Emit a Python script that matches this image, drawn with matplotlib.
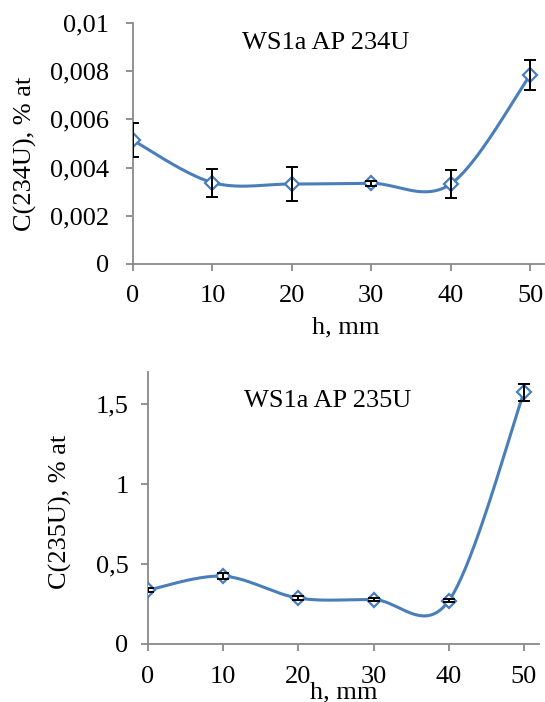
import numpy as np
import matplotlib
matplotlib.use("Agg")
import matplotlib.pyplot as plt
from matplotlib.ticker import FuncFormatter, MultipleLocator

plt.rcParams['font.family'] = ['Liberation Serif', 'DejaVu Serif']
plt.rcParams['font.size'] = 19

# data
h = [0, 10, 20, 30, 40, 50]
c234 = [0.00513, 0.00338, 0.00332, 0.00335, 0.00332, 0.00784]
err234 = [0.0007, 0.00058, 0.0007, 0.0001, 0.00058, 0.00063]
c235 = [0.337, 0.424, 0.287, 0.278, 0.270, 1.573]
err235 = [0.012, 0.02, 0.012, 0.01, 0.01, 0.055]

W, H = 545, 702
BLUE = '#4a7ebb'
GREY = '#898989'


def smooth(x, y, n=40):
    # Excel-like smoothed line (Catmull-Rom bezier)
    p = np.column_stack([x, y]).astype(float)
    p = np.vstack([p[0], p, p[-1]])
    out = []
    for i in range(1, len(p) - 2):
        p0, p1, p2, p3 = p[i - 1], p[i], p[i + 1], p[i + 2]
        c1 = p1 + (p2 - p0) / 6
        c2 = p2 - (p3 - p1) / 6
        t = np.linspace(0, 1, n)[:, None]
        seg = ((1 - t) ** 3 * p1 + 3 * (1 - t) ** 2 * t * c1
               + 3 * (1 - t) * t ** 2 * c2 + t ** 3 * p2)
        out.append(seg)
    out = np.vstack(out)
    return out[:, 0], out[:, 1]


def comma(v, pos):
    return ('%g' % v).replace('.', ',')


def panel(rect, y, err, ymax, ystep, ypad, xpad, title, tpos, ylab, ypos, xpos):
    l, t, r, b = rect
    ax = fig.add_axes([l / W, 1 - b / H, (r - l) / W, (b - t) / H])
    sx, sy = smooth(h, y)
    ax.plot(sx, sy, color=BLUE, lw=2.2, zorder=2)
    ax.plot(h, y, ls='none', marker='D', ms=7.5, mfc='white', mec=BLUE,
            mew=1.6, zorder=3)
    ax.errorbar(h, y, yerr=err, fmt='none', ecolor='black', elinewidth=1.4,
                capsize=4, capthick=1.4, zorder=4)
    ax.set_xlim(0, 52)
    ax.set_ylim(0, ymax)
    ax.set_xticks(h)
    ax.yaxis.set_major_locator(MultipleLocator(ystep))
    ax.yaxis.set_major_formatter(FuncFormatter(comma))
    for s in ['top', 'right']:
        ax.spines[s].set_visible(False)
    for s in ['left', 'bottom']:
        ax.spines[s].set_color(GREY)
        ax.spines[s].set_linewidth(1.3)
    ax.tick_params(axis='both', colors=GREY, labelcolor='black', width=1.3,
                   length=5, labelsize=19)
    ax.tick_params(axis='y', pad=ypad)
    ax.tick_params(axis='x', pad=xpad)
    fig.text(tpos[0] / W, 1 - tpos[1] / H, title, ha='center', va='center',
             fontsize=19)
    fig.text(ypos[0] / W, 1 - ypos[1] / H, ylab, ha='center', va='center',
             rotation=90, fontsize=19)
    fig.text(xpos[0] / W, 1 - xpos[1] / H, 'h, mm', ha='center',
             va='baseline', fontsize=19)
    return ax


fig = plt.figure(figsize=(W / 100, H / 100), dpi=100)

panel((133, 23, 546, 264), c234, err234, 0.01, 0.002, 12, 10,
      'WS1a AP 234U', (326, 43), 'C(234U), % at', (25, 154), (346, 333))
panel((148, 372, 539, 644), c235, err235, 1.7, 0.5, 9, 11,
      'WS1a AP 235U', (328, 401), 'C(235U), % at', (60, 512), (344, 698))

fig.savefig('out.png', dpi=100)
